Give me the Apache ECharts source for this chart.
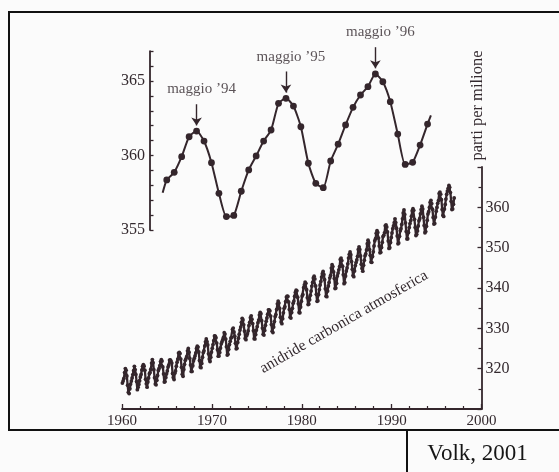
<!DOCTYPE html>
<html><head><meta charset="utf-8">
<script src="https://cdn.jsdelivr.net/npm/echarts@6/dist/echarts.min.js"></script>
<style>html,body{margin:0;padding:0;background:#fbfbfb}#c{width:559px;height:472px}</style>
</head><body><div id="c"></div>
<script>
// Monthly atmospheric CO2 (ppm), Jan 1960 – Dec 1996
const co2_1960s = [
316.43,316.97,317.58,319.02,320.03,319.59,318.18,315.91,314.16,313.83,315.00,316.19,
316.93,317.70,318.54,319.48,320.58,319.77,318.57,316.79,314.80,315.38,316.10,317.01,
317.94,318.56,319.68,320.57,321.02,320.62,319.61,317.40,316.25,315.42,316.69,317.70,
318.74,319.07,319.86,321.38,322.25,321.48,319.74,317.77,316.21,315.99,317.12,318.31,
319.57,320.07,320.73,321.77,322.23,321.89,320.44,318.70,316.70,316.79,317.79,318.71,
319.44,320.44,320.89,322.13,322.16,321.87,321.39,318.81,317.81,317.30,318.87,319.42,
320.62,321.59,322.39,323.87,324.01,323.75,322.39,320.37,318.64,318.10,319.79,321.08,
322.07,322.50,323.04,324.42,325.00,324.09,322.55,320.92,319.31,319.31,320.72,321.96,
322.57,323.15,323.89,325.02,325.57,325.36,324.14,322.03,320.41,320.25,321.31,322.84,
324.00,324.42,325.64,326.66,327.38,326.70,325.89,323.67,322.38,321.78,322.85,324.12];
const co2_1970s = [
325.06,325.98,326.93,328.13,328.07,327.66,326.35,324.69,323.10,323.16,323.98,325.13,
326.17,326.68,327.18,327.78,328.92,328.57,327.34,325.46,323.36,323.57,324.80,326.01,
326.77,327.63,327.75,329.72,330.07,329.09,328.05,326.32,324.93,325.06,326.50,327.55,
328.54,329.56,330.30,331.50,332.48,332.07,330.87,329.31,327.51,327.18,328.16,328.64,
329.35,330.71,331.48,332.65,333.09,332.25,331.18,329.40,327.44,327.37,328.46,329.58,
330.40,331.40,332.04,333.31,333.96,333.59,331.91,330.06,328.56,328.34,329.49,330.76,
331.75,332.56,333.50,334.58,334.57,334.34,333.05,330.94,329.30,328.94,330.31,331.68,
332.93,333.42,334.70,336.07,336.75,336.27,334.92,332.75,331.59,331.16,332.40,333.85,
334.97,335.38,336.64,337.76,338.01,337.89,336.54,334.68,332.76,332.55,333.92,334.95,
336.23,336.76,337.96,338.89,339.47,339.29,337.73,336.09,333.92,333.86,335.29,336.73];
const co2_1980s = [
338.01,338.36,340.08,340.77,341.46,341.17,339.56,337.60,335.88,336.02,337.10,338.21,
339.24,340.48,341.38,342.51,342.91,342.25,340.49,338.43,336.69,336.86,338.36,339.61,
340.75,341.61,342.70,343.56,344.13,343.35,342.06,339.82,337.97,337.86,339.26,340.49,
341.38,342.52,343.10,344.94,345.76,345.32,343.98,342.38,339.87,339.99,341.15,342.99,
343.70,344.51,345.28,347.08,347.43,346.79,345.40,343.28,341.07,341.35,342.98,344.22,
344.97,345.99,347.42,348.35,348.93,348.25,346.56,344.67,343.09,342.80,344.24,345.56,
346.30,346.95,347.85,349.55,350.21,349.55,347.94,345.90,344.85,344.17,345.66,346.90,
348.02,348.47,349.42,350.99,351.84,351.25,349.52,348.10,346.44,346.36,347.81,348.96,
350.43,351.72,352.22,353.59,354.22,353.79,352.39,350.44,348.72,348.88,350.07,351.34,
352.76,353.07,353.68,355.42,355.67,355.12,353.90,351.67,349.80,349.99,351.30,352.53];
const co2_1990s = [
353.66,354.70,355.39,356.20,357.16,356.22,354.82,352.91,350.96,351.18,352.83,354.21,
354.72,355.75,357.16,358.60,359.34,358.24,356.17,354.03,352.16,352.21,353.75,354.99,
355.98,356.72,357.81,359.15,359.66,359.25,357.02,355.00,353.01,353.31,354.16,355.40,
356.70,357.17,358.38,359.46,360.28,359.60,357.57,355.52,353.70,353.98,355.33,356.80,
358.36,358.91,359.97,361.26,361.69,360.94,359.55,357.49,355.84,356.00,357.58,359.04,
359.97,361.00,361.64,363.45,363.79,363.26,361.90,359.46,358.06,357.75,359.56,360.70,
362.05,363.25,364.03,364.72,365.41,364.97,363.65,361.49,359.46,359.60,360.76,362.33];
const firstYear = 1960;

// Inset: monthly values Jan 1994 – Dec 1996
const inset1994 = [358.36,358.87,359.92,361.26,361.64,360.97,359.52,357.46,355.90,355.98,357.60,359.03];
const inset1995 = [359.97,360.97,361.71,363.50,363.84,363.32,361.93,359.48,358.13,357.84,359.63,360.76];
const inset1996 = [362.05,363.23,364.06,364.62,365.47,364.95,363.61,361.44,359.40,359.54,360.70,362.11];
const insetTailStart = [-0.55, 357.5];
const insetTailEnd = [35.45, 362.7];
const peakMonthIndex = [4, 16, 28];
const peakLabels = ['maggio ’94', 'maggio ’95', 'maggio ’96'];

const xTickLabels = [1960, 1970, 1980, 1990, 2000];
const rightTickLabels = [320, 330, 340, 350, 360];
const insetTickLabels = [355, 360, 365];
const curveLabel = 'anidride carbonica atmosferica';
const unitLabel = 'parti per milione';
const sourceLabel = 'Volk, 2001';

const INK = '#34262c';
const TXT = '#33292e';
const FONT = 'Liberation Serif';

const monthly = [].concat(co2_1960s, co2_1970s, co2_1980s, co2_1990s);
const mainData = monthly.map((v, i) => [firstYear + i / 12 + 1 / 24, v]);
const insetVals = [].concat(inset1994, inset1995, inset1996);
const insetData = [{value: insetTailStart, symbol: 'none'}]
  .concat(insetVals.map((v, i) => [i, v]))
  .concat([{value: insetTailEnd, symbol: 'none'}]);

const chart = echarts.init(document.getElementById('c'), null, {renderer: 'canvas'});
chart.setOption({
  backgroundColor: '#fbfbfb',
  animation: false,
  textStyle: {fontFamily: FONT},
  grid: [
    {left: 122, right: 77.5, top: 167, bottom: 63, containLabel: false, outerBoundsMode: 'none'},
    {left: 150, right: 124, top: 51.2, bottom: 242, containLabel: false, outerBoundsMode: 'none'},
    {left: 150, right: 124, top: 6.5, bottom: 242, containLabel: false, outerBoundsMode: 'none'}
  ],
  xAxis: [
    {gridIndex: 0, type: 'value', min: 1960, max: 2000, interval: 10,
     axisLine: {show: true, onZero: false, lineStyle: {color: INK, width: 1.8}},
     axisTick: {show: true, inside: true, length: 5, lineStyle: {color: INK, width: 1.3}},
     minorTick: {show: true, splitNumber: 5, length: 3, lineStyle: {color: INK, width: 1.2}},
     splitLine: {show: false}, minorSplitLine: {show: false},
     axisLabel: {show: true, margin: 5, color: TXT, fontSize: 15, fontFamily: FONT,
       formatter: v => xTickLabels.includes(v) ? String(v) : ''}},
    {gridIndex: 1, type: 'value', min: -2.25, max: 36, show: false},
    {gridIndex: 2, type: 'value', min: -2.25, max: 36, show: false}
  ],
  yAxis: [
    {gridIndex: 0, type: 'value', position: 'right', min: 310, max: 370, interval: 10,
     axisLine: {show: true, onZero: false, lineStyle: {color: INK, width: 1.8}},
     axisTick: {show: true, inside: true, length: 4, lineStyle: {color: INK, width: 1.3}},
     minorTick: {show: true, splitNumber: 2, length: 3, lineStyle: {color: INK, width: 1.2}},
     splitLine: {show: false}, minorSplitLine: {show: false},
     axisLabel: {show: true, margin: 4, color: TXT, fontSize: 16, fontFamily: FONT,
       formatter: v => rightTickLabels.includes(v) ? String(v) : ''}},
    {gridIndex: 1, type: 'value', position: 'left', min: 355, max: 367, interval: 1,
     axisLine: {show: true, onZero: false, lineStyle: {color: INK, width: 1.8}},
     axisTick: {show: true, inside: true, length: 3.5, lineStyle: {color: INK, width: 1.3}},
     splitLine: {show: false},
     axisLabel: {show: true, margin: 5, color: TXT, fontSize: 16, fontFamily: FONT,
       formatter: v => insetTickLabels.includes(v) ? String(v) : ''}},
    {gridIndex: 2, type: 'value', min: 355, max: 370, show: false}
  ],
  series: [
    {type: 'line', xAxisIndex: 0, yAxisIndex: 0, data: mainData, silent: true,
     symbol: 'circle', symbolSize: 3.8, showAllSymbol: true,
     lineStyle: {color: INK, width: 2.3}, itemStyle: {color: INK}},
    {type: 'line', xAxisIndex: 1, yAxisIndex: 1, data: insetData, silent: true,
     smooth: 0.2, symbol: 'circle', symbolSize: 6.8, showAllSymbol: true,
     lineStyle: {color: INK, width: 2}, itemStyle: {color: INK}},
    {type: 'scatter', xAxisIndex: 2, yAxisIndex: 2, silent: true, symbolSize: 0,
     data: peakMonthIndex.map((k, j) => ({value: [k, insetVals[k] + 2.8], name: peakLabels[j]})),
     label: {show: true, position: 'inside', offset: [5, 0], formatter: p => p.name,
       color: TXT, fontSize: 15, fontFamily: FONT},
     markLine: {silent: true, animation: false, symbol: ['none', 'arrow'], symbolSize: 8,
       lineStyle: {color: INK, width: 1.4, type: 'solid'}, label: {show: false},
       emphasis: {disabled: true},
       data: peakMonthIndex.map(k => [
         {coord: [k, insetVals[k] + 1.8]},
         {coord: [k, insetVals[k] + 0.38]}
       ])}}
  ],
  graphic: [
    {type: 'rect', silent: true, shape: {x: 9, y: 12, width: 560, height: 418},
     style: {fill: 'none', stroke: '#111', lineWidth: 2}},
    {type: 'line', silent: true, shape: {x1: 407, y1: 430, x2: 407, y2: 480},
     style: {stroke: '#111', lineWidth: 2}},
    {type: 'text', silent: true, x: 477.5, y: 454,
     style: {text: sourceLabel, font: '23px "Liberation Serif"', fill: '#151515',
       textAlign: 'center', textVerticalAlign: 'middle'}},
    {type: 'text', silent: true, x: 478, y: 105.5, rotation: Math.PI / 2,
     style: {text: unitLabel, font: '16.5px "Liberation Serif"', fill: TXT,
       textAlign: 'center', textVerticalAlign: 'middle'}},
    {type: 'text', silent: true, x: 344, y: 322, rotation: 30 * Math.PI / 180,
     style: {text: curveLabel, font: '15.5px "Liberation Serif"', fill: TXT,
       textAlign: 'center', textVerticalAlign: 'middle'}}
  ]
});
</script></body></html>
